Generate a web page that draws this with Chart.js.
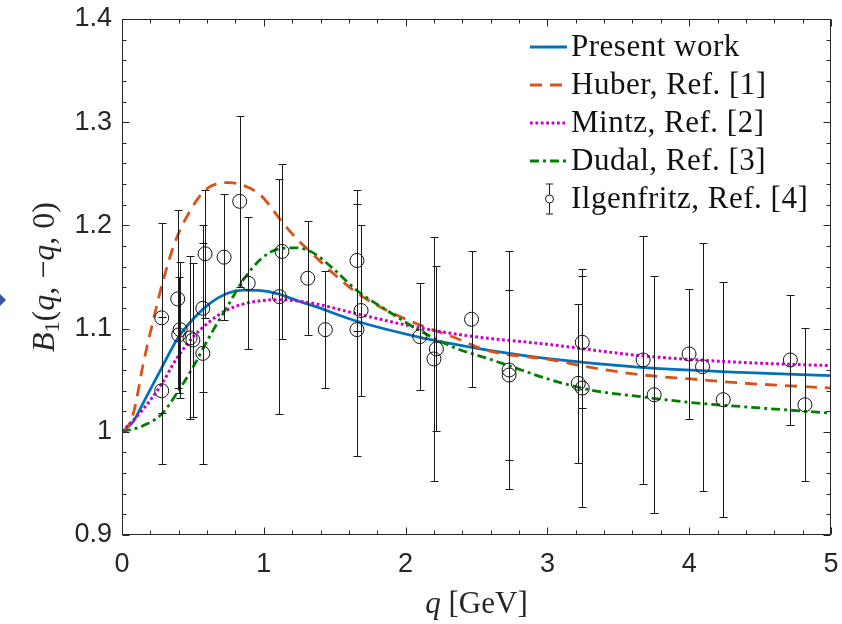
<!DOCTYPE html>
<html>
<head>
<meta charset="utf-8">
<title>B1(q,-q,0)</title>
<script src="https://cdn.jsdelivr.net/npm/chart.js@4.4.1/dist/chart.umd.min.js"></script>
<style>
  body { margin: 0; background: #fff; }
  #grafico { display: block; }
</style>
</head>
<body>
<canvas id="grafico" width="842" height="624"></canvas>
<script>
// tick values and labels
const xTicks = [0, 1, 2, 3, 4, 5];
const xTickLabels = ['0', '1', '2', '3', '4', '5'];
const yTicks = [0.9, 1, 1.1, 1.2, 1.3, 1.4];
const yTickLabels = ['0.9', '1', '1.1', '1.2', '1.3', '1.4'];

const seriesNames = ['Present work', 'Huber, Ref. [1]', 'Mintz, Ref. [2]', 'Dudal, Ref. [3]', 'Ilgenfritz, Ref. [4]'];

// Present work (solid blue)
const presentQ = [0, 0.08, 0.15, 0.28, 0.39, 0.5, 0.62, 0.74, 0.86, 0.98, 1.1, 1.257, 1.34, 1.657, 2.1, 2.465, 2.73, 3.02, 3.658, 4.364, 5];
const presentB = [1.0, 1.010, 1.028, 1.062, 1.090, 1.109, 1.1245, 1.1340, 1.1372, 1.1368, 1.1337, 1.1260, 1.1225, 1.1071, 1.0916, 1.0819, 1.076, 1.0706, 1.0624, 1.0576, 1.0544];

// Huber (dashed orange)
const huberQ = [0, 0.04, 0.085, 0.15, 0.22, 0.29, 0.38, 0.48, 0.57, 0.66, 0.76, 0.86, 0.98, 1.12, 1.21, 1.33, 1.48, 1.66, 1.87, 2.08, 2.34, 2.58, 3.02, 3.305, 3.658, 4.01, 4.364, 5];
const huberB = [1.0, 1.005, 1.0204, 1.066, 1.1078, 1.1466, 1.1860, 1.2140, 1.2320, 1.2400, 1.2415, 1.2385, 1.2290, 1.2050, 1.1903, 1.1741, 1.1547, 1.1343, 1.1175, 1.1046, 1.0916, 1.0786, 1.0699, 1.0624, 1.0553, 1.0512, 1.0473, 1.0424];

// Mintz (dotted magenta)
const mintzQ = [0, 0.15, 0.28, 0.39, 0.5, 0.62, 0.74, 0.86, 0.98, 1.1, 1.34, 1.657, 2.08, 2.43, 3.02, 3.658, 4.364, 5];
const mintzB = [1.0, 1.0220, 1.0463, 1.0720, 1.0916, 1.1070, 1.1180, 1.1240, 1.1270, 1.1280, 1.1246, 1.1143, 1.1013, 1.0932, 1.0845, 1.0738, 1.0673, 1.0641];

// Dudal (dash-dot green)
const dudalQ = [0, 0.15, 0.28, 0.39, 0.5, 0.62, 0.74, 0.86, 0.98, 1.1, 1.22, 1.34, 1.49, 1.657, 1.87, 2.1, 2.34, 2.58, 2.73, 3.02, 3.305, 3.658, 4.01, 4.364, 5];
const dudalB = [1.0, 1.0060, 1.0172, 1.0380, 1.0624, 1.0930, 1.1207, 1.1480, 1.1675, 1.1770, 1.1783, 1.1741, 1.158, 1.1369, 1.1175, 1.098, 1.0818, 1.0710, 1.0640, 1.0505, 1.0405, 1.0340, 1.0284, 1.0245, 1.0181];

// Ilgenfritz lattice points with error bars
const latticeQ = [0.28, 0.28, 0.393, 0.41, 0.40, 0.48, 0.50, 0.586, 0.57, 0.57, 0.72, 0.83, 0.89, 1.11, 1.128, 1.31, 1.434, 1.657, 1.686, 1.657, 2.10, 2.217, 2.20, 2.465, 2.73, 2.73, 3.218, 3.246, 3.246, 3.675, 3.753, 3.999, 4.094, 4.24, 4.713, 4.816];
const latticeB = [1.1104, 1.0398, 1.1288, 1.099, 1.0939, 1.091, 1.089, 1.1725, 1.1197, 1.076, 1.1692, 1.2233, 1.144, 1.131, 1.1748, 1.1488, 1.099, 1.166, 1.1175, 1.099, 1.0922, 1.0803, 1.0706, 1.109, 1.0599, 1.055, 1.0469, 1.0867, 1.0424, 1.0696, 1.0359, 1.0754, 1.0631, 1.0311, 1.0696, 1.0262];
const latticeErr = [0.092, 0.071, 0.086, 0.066, 0.056, 0.079, 0.075, 0.062, 0.081, 0.107, 0.061, 0.083, 0.064, 0.114, 0.085, 0.055, 0.057, 0.068, 0.083, 0.122, 0.052, 0.080, 0.118, 0.066, 0.115, 0.082, 0.077, 0.064, 0.115, 0.120, 0.115, 0.063, 0.120, 0.114, 0.063, 0.074];

function toPoints(qs, bs) {
  return qs.map((q, i) => ({ x: q, y: bs[i] }));
}

const axisColor = '#262626';
const serif = '"Liberation Serif", "Times New Roman", serif';

// error bars drawn from the lattice arrays through the chart scales
const errorBars = {
  id: 'errorBars',
  afterDatasetsDraw(chart) {
    const xs = chart.scales.x, ys = chart.scales.y, ctx = chart.ctx;
    ctx.save();
    ctx.strokeStyle = '#1a1a1a';
    ctx.lineWidth = 1;
    latticeQ.forEach((q, i) => {
      const px = Math.round(xs.getPixelForValue(q)) + 0.5;
      const top = Math.round(ys.getPixelForValue(latticeB[i] + latticeErr[i])) + 0.5;
      const bot = Math.round(ys.getPixelForValue(latticeB[i] - latticeErr[i])) + 0.5;
      ctx.beginPath();
      ctx.moveTo(px, top); ctx.lineTo(px, bot);
      ctx.moveTo(px - 4, top); ctx.lineTo(px + 4, top);
      ctx.moveTo(px - 4, bot); ctx.lineTo(px + 4, bot);
      ctx.stroke();
    });
    ctx.restore();
  }
};

// box around the axes with inward ticks (MATLAB style)
const frame = {
  id: 'frame',
  afterDraw(chart) {
    const a = chart.chartArea, xs = chart.scales.x, ys = chart.scales.y, ctx = chart.ctx;
    ctx.save();
    ctx.strokeStyle = axisColor;
    ctx.lineWidth = 1;
    const L = Math.round(a.left) + 0.5, R = Math.round(a.right) - 0.5;
    const T = Math.round(a.top) + 0.5, B = Math.round(a.bottom) - 0.5;
    ctx.strokeRect(L, T, R - L, B - T);
    ctx.beginPath();
    for (let k = 0; k <= 25; k++) {
      const len = k % 5 === 0 ? 7 : 4;
      const px = Math.round(xs.getPixelForValue(k * 0.2)) + 0.5;
      ctx.moveTo(px, B); ctx.lineTo(px, B - len);
      ctx.moveTo(px, T); ctx.lineTo(px, T + len);
    }
    for (let k = 0; k <= 25; k++) {
      const len = k % 5 === 0 ? 7 : 4;
      const py = Math.round(ys.getPixelForValue(0.9 + k * 0.02)) + 0.5;
      ctx.moveTo(L, py); ctx.lineTo(L + len, py);
      ctx.moveTo(R, py); ctx.lineTo(R - len, py);
    }
    ctx.stroke();
    ctx.restore();
  }
};

// draw text made of pieces with different fonts, centred on x
function drawPieces(ctx, pieces, cx, baseY) {
  let total = 0;
  pieces.forEach(p => { ctx.font = p.font; total += ctx.measureText(p.text).width; });
  let x = cx - total / 2;
  pieces.forEach(p => {
    ctx.font = p.font;
    ctx.fillText(p.text, x, baseY + (p.dy || 0));
    x += ctx.measureText(p.text).width;
  });
}

const titles = {
  id: 'titles',
  afterDraw(chart) {
    const ctx = chart.ctx, a = chart.chartArea;
    ctx.save();
    ctx.fillStyle = axisColor;
    ctx.textBaseline = 'alphabetic';
    // x axis title
    drawPieces(ctx, [
      { text: 'q', font: 'italic 31px ' + serif },
      { text: ' [GeV]', font: '31px ' + serif }
    ], (a.left + a.right) / 2, 613);
    // y axis title, rotated
    const up = '32px ' + serif, it = 'italic 32px ' + serif, small = '22px ' + serif;
    ctx.translate(54, 277);
    ctx.rotate(-Math.PI / 2);
    drawPieces(ctx, [
      { text: 'B', font: it },
      { text: '1', font: small, dy: 5 },
      { text: '(', font: up },
      { text: 'q', font: it },
      { text: ', \u2212', font: up },
      { text: 'q', font: it },
      { text: ', 0)', font: up }
    ], 0, 0);
    ctx.restore();

    // small blue marker at the left edge of the picture
    ctx.save();
    ctx.fillStyle = '#2F5B9E';
    ctx.beginPath();
    ctx.moveTo(-6, 300); ctx.lineTo(0, 294); ctx.lineTo(6, 300); ctx.lineTo(0, 306);
    ctx.closePath();
    ctx.fill();
    ctx.restore();
  }
};

// legend drawn by hand so the error bar symbol can be shown
const legendBox = {
  id: 'legendBox',
  afterDraw(chart) {
    const ctx = chart.ctx;
    ctx.save();
    ctx.textBaseline = 'middle';
    ctx.font = '31px ' + serif;
    ctx.letterSpacing = '0.5px';
    const order = [1, 2, 3, 4, 0];
    order.forEach((di, row) => {
      const ds = chart.data.datasets[di];
      const y = 47 + row * 38;
      if (di > 0) {
        ctx.strokeStyle = ds.borderColor;
        ctx.lineWidth = ds.borderWidth;
        ctx.setLineDash(ds.borderDash || []);
        ctx.beginPath();
        ctx.moveTo(530, y); ctx.lineTo(567, y);
        ctx.stroke();
        ctx.setLineDash([]);
      } else {
        ctx.strokeStyle = '#1a1a1a';
        ctx.lineWidth = 1;
        ctx.beginPath();
        ctx.moveTo(549.5, y - 15); ctx.lineTo(549.5, y - 4);
        ctx.moveTo(549.5, y + 4); ctx.lineTo(549.5, y + 15);
        ctx.moveTo(546, y - 15); ctx.lineTo(553, y - 15);
        ctx.moveTo(546, y + 15); ctx.lineTo(553, y + 15);
        ctx.stroke();
        ctx.beginPath();
        ctx.arc(549.5, y, 4, 0, Math.PI * 2);
        ctx.stroke();
      }
      ctx.fillStyle = '#111';
      ctx.fillText(ds.label, 571, y + 1);
    });
    ctx.restore();
  }
};

new Chart(document.getElementById('grafico'), {
  type: 'scatter',
  data: {
    datasets: [
      { label: seriesNames[4], data: toPoints(latticeQ, latticeB), pointRadius: 7, pointBorderWidth: 1,
        pointBorderColor: '#111', pointBackgroundColor: 'rgba(0,0,0,0)', order: 0 },
      { label: seriesNames[0], data: toPoints(presentQ, presentB), showLine: true, pointRadius: 0,
        borderColor: '#0072BD', borderWidth: 2.8, cubicInterpolationMode: 'monotone', order: 4 },
      { label: seriesNames[1], data: toPoints(huberQ, huberB), showLine: true, pointRadius: 0,
        borderColor: '#D95319', borderWidth: 2.8, borderDash: [12, 8], cubicInterpolationMode: 'monotone', order: 3 },
      { label: seriesNames[2], data: toPoints(mintzQ, mintzB), showLine: true, pointRadius: 0,
        borderColor: '#CC00CC', borderWidth: 3, borderDash: [2.8, 2.6], cubicInterpolationMode: 'monotone', order: 2 },
      { label: seriesNames[3], data: toPoints(dudalQ, dudalB), showLine: true, pointRadius: 0,
        borderColor: '#008000', borderWidth: 2.8, borderDash: [9, 4, 3, 4], cubicInterpolationMode: 'monotone', order: 1 }
    ]
  },
  options: {
    responsive: false,
    animation: false,
    devicePixelRatio: 1,
    layout: { padding: { left: 0, right: 11, top: 19, bottom: 0 } },
    plugins: { legend: { display: false }, tooltip: { enabled: false } },
    scales: {
      x: {
        type: 'linear', min: 0, max: 5,
        afterBuildTicks(s) { s.ticks = xTicks.map(v => ({ value: v })); },
        afterFit(s) { s.height = 89; s.paddingLeft = 0; s.paddingRight = 0; },
        grid: { display: false, drawTicks: false },
        border: { display: false },
        ticks: {
          padding: 13, color: axisColor, autoSkip: false, maxRotation: 0,
          font: { family: 'Liberation Sans', size: 27 },
          callback: (v, i) => xTickLabels[i]
        }
      },
      y: {
        type: 'linear', min: 0.9, max: 1.4,
        afterBuildTicks(s) { s.ticks = yTicks.map(v => ({ value: v })); },
        afterFit(s) { s.width = 122; s.paddingTop = 0; s.paddingBottom = 0; },
        grid: { display: false, drawTicks: false },
        border: { display: false },
        ticks: {
          padding: 10, color: axisColor, autoSkip: false,
          font: { family: 'Liberation Sans', size: 27 },
          callback: (v, i) => yTickLabels[i]
        }
      }
    }
  },
  plugins: [errorBars, frame, titles, legendBox]
});
</script>
</body>
</html>
